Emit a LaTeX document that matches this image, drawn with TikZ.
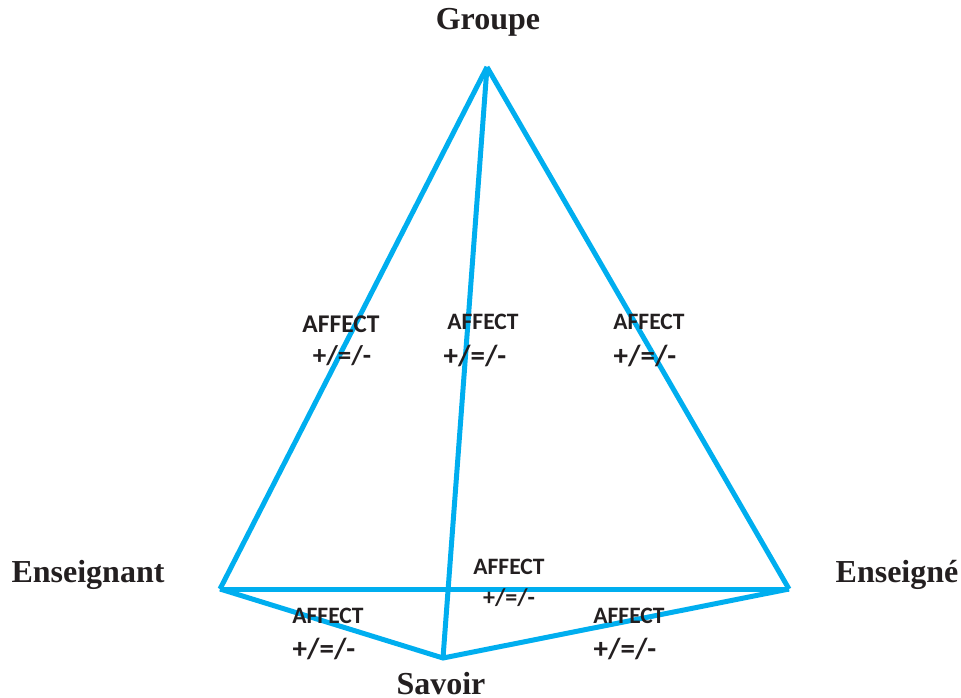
\documentclass[tikz,border=0pt]{standalone}
\usepackage{fontspec}
\setmainfont{Liberation Serif}
\newfontfamily\lblfont{Carlito}
\definecolor{edgeblue}{HTML}{00AEEF}
\definecolor{txt}{HTML}{231F20}
\begin{document}
\begin{tikzpicture}[x=1pt,y=-1pt,
  vlabel/.style={inner sep=0pt,text=txt,font=\fontsize{32}{36}\selectfont\bfseries},
  aff/.style={inner sep=0pt,text=txt,font=\fontsize{23.5}{26}\selectfont\lblfont\bfseries},
  sgn/.style={inner sep=0pt,text=txt,font=\fontsize{29}{32}\selectfont\lblfont\bfseries},
  linkline/.style={draw=edgeblue,line width=5pt,line join=miter}]
\useasboundingbox (0,0) rectangle (961,697);
\coordinate (G) at (487,67);
\coordinate (L) at (220,589);
\coordinate (R) at (789,589);
\coordinate (S) at (443,658);
\draw[linkline] (G) -- (L);
\draw[linkline] (G) -- (R);
\draw[linkline] (G) -- (S);
\draw[linkline] (L) -- (R);
\draw[linkline] (L) -- (S) -- (R);
\node[vlabel] (tG) at (488,22) {Groupe};
\node[vlabel] (tL) at (88,575) {Enseignant};
\node[vlabel] (tR) at (897,575) {Enseigné};
\node[vlabel] (tS) at (441,684) {Savoir};
\node[aff,font=\fontsize{25.5}{28}\selectfont\lblfont\bfseries] (a1) at (341,324) {AFFECT};
\node[sgn,font=\fontsize{27}{30}\selectfont\lblfont\bfseries] (s1) at (342,356) {+/=/-};
\node[aff] (a2) at (483,322) {AFFECT};
\node[sgn] (s2) at (475,356) {+/=/-};
\node[aff] (a3) at (649,322) {AFFECT};
\node[sgn] (s3) at (645,356) {+/=/-};
\node[aff] (a4) at (509,567) {AFFECT};
\node[sgn,font=\fontsize{24}{27}\selectfont\lblfont\bfseries] (s4) at (509,598) {+/=/-};
\node[aff] (a5) at (328,616) {AFFECT};
\node[sgn] (s5) at (324,649) {+/=/-};
\node[aff] (a6) at (629,616) {AFFECT};
\node[sgn] (s6) at (625,649) {+/=/-};
\end{tikzpicture}
\end{document}
